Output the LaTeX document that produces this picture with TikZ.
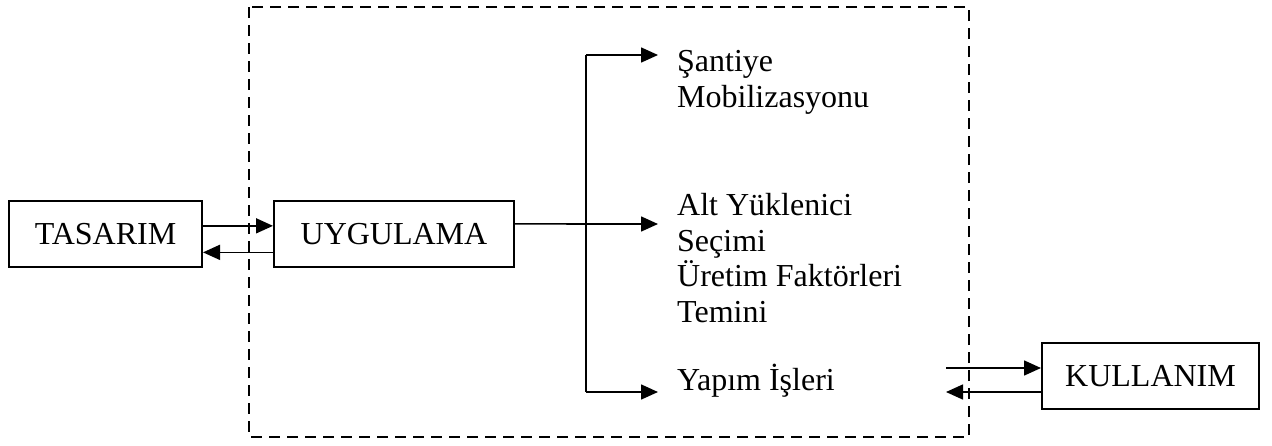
\documentclass[tikz,border=0pt]{standalone}
\usepackage{fontspec}
\setmainfont{Liberation Serif}
\usetikzlibrary{arrows.meta,calc}
\begin{document}
\begin{tikzpicture}[x=1pt,y=-1pt,
  box/.style={draw,line width=2pt,minimum height=66pt,inner sep=0pt,font=\fontsize{32}{36}\selectfont},
  lbl/.style={anchor=base west,inner sep=0pt,align=left,font=\fontsize{32}{35.5}\selectfont},
  conn/.style={line width=1.6pt},
  arr/.style={conn,-{Triangle[length=17pt,width=15pt]}},
  frame/.style={line width=2.8pt,dash pattern=on 11pt off 7pt}]
\useasboundingbox (0,0) rectangle (1272,445);
\draw[frame] (249,7) rectangle (969,437);
\node[box,minimum width=193pt] (tas) at (105.5,234) {TASARIM};
\node[box,minimum width=240pt] (uyg) at (394,234) {UYGULAMA};
\node[box,minimum width=217pt] (kul) at (1150.5,376) {KULLANIM};
\node[lbl] (san) at (677,107) {Şantiye\\Mobilizasyonu};
\node[lbl] (alt) at (677,322) {Alt Yüklenici\\Seçimi\\Üretim Faktörleri\\Temini};
\node[lbl] (yap) at (677,390) {Yapım İşleri};
\coordinate (bt) at (586,55);
\coordinate (bm) at (586,224);
\coordinate (bb) at (586,392);
\coordinate (ts) at (658,55);
\coordinate (tm) at (658,224);
\coordinate (tb) at (658,392);
\coordinate (ka) at (946,368);
\coordinate (kb) at (946,392);
\draw[arr] ($(tas.north east)!0.38!(tas.south east)$) -- ($(uyg.north west)!0.38!(uyg.south west)$);
\draw[arr] ($(uyg.north west)!0.77!(uyg.south west)$) -- ($(tas.north east)!0.77!(tas.south east)$);
\draw[conn] ($(uyg.north east)!0.35!(uyg.south east)$) -- (bm);
\draw[conn] (bt) -- (bb);
\draw[arr] (bt) -- (ts);
\draw[arr] (bm) -- (tm);
\draw[arr] (bb) -- (tb);
\draw[arr] (ka) -- (ka -| kul.west);
\draw[arr] (kb -| kul.west) -- (kb);
\end{tikzpicture}
\end{document}
